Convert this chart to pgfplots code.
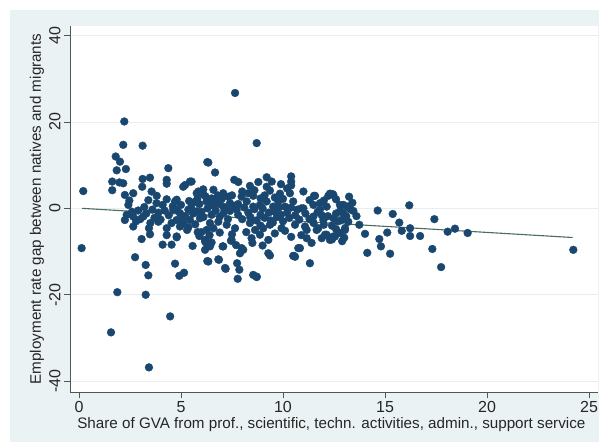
\documentclass[border=0pt]{standalone}
\usepackage{pgfplots}
\pgfplotsset{compat=1.18}
\usepackage{fontspec}
\setmainfont{Liberation Sans}
\definecolor{bgc}{RGB}{234,242,243}
\definecolor{navy}{RGB}{26,71,111}
\definecolor{fitc}{RGB}{72,110,96}
\definecolor{axc}{RGB}{85,85,85}
\definecolor{gridc}{RGB}{232,238,240}
\begin{document}
\begin{tikzpicture}[x=1pt,y=1pt]
\path[use as bounding box] (0,0) rectangle (599,442);
\fill[bgc] (10,0) rectangle (599,432);
\begin{axis}[
  at={(70pt,50pt)}, anchor=south west,
  scale only axis, width=528pt, height=366pt,
  xmin=-0.44, xmax=25.44, ymin=-42.5, ymax=42.2,
  axis x line*=bottom, axis y line*=left,
  axis line style={axc, line width=0.8pt},
  axis background/.style={fill=white},
  xtick={0,5,10,15,20,25}, ytick={-40,-20,0,20,40},
  tick align=outside, major tick length=6pt,
  tick style={axc, line width=0.8pt},
  ymajorgrids, grid style={gridc, line width=0.8pt},
  /pgf/number format/assume math mode=true,
  ticklabel style={font=\fontsize{16}{18}\selectfont, text=black!85},
  yticklabel style={rotate=90, anchor=south},
  label style={font=\fontsize{15.2}{18}\selectfont, text=black!85},
  xlabel={Share of GVA from prof., scientific, techn. activities, admin., support service},
  ylabel={Employment rate gap between natives and migrants},
  xlabel style={at={(axis description cs:0.495,-0.09)}, anchor=center},
  ylabel style={at={(axis description cs:-0.0625,0.5)}, anchor=center},
  clip=false,
]
\addplot[only marks, mark=*, mark size=3.9pt, mark options={fill=navy, draw=navy}] coordinates {
(0.21,4.0) (0.13,-9.2) (1.57,-28.7) (1.88,-19.4) (2.22,20.1) (2.17,14.7) (3.12,14.5) (1.80,12.0) (2.01,10.8) (1.85,8.8)
(2.30,9.1) (4.38,9.3) (6.29,10.7) (1.63,6.2) (1.63,4.2) (1.98,6.0) (2.17,5.8) (3.12,6.8) (3.48,7.1) (3.10,5.0)
(4.30,6.6) (4.30,5.7) (3.56,3.9) (3.81,2.9) (2.25,3.1) (2.47,1.8) (2.66,3.5) (2.42,0.8) (5.11,5.0) (5.44,6.2)
(5.85,3.9) (4.30,2.1) (4.79,2.0) (6.09,4.4) (6.25,1.6)
(2.34,-1.5) (2.66,-1.9) (2.25,-2.7) (2.66,-4.2) (3.15,-1.9) (3.43,-4.6) (3.48,-6.0) (3.07,-7.1) (3.89,-3.1) (4.30,-4.6)
(4.54,-3.4) (4.95,-4.2) (5.36,-4.4) (4.79,-6.7) (4.10,-8.4) (4.54,-8.4) (5.82,-5.5) (5.57,-8.7) (6.18,-7.7) (6.18,-9.6)
(6.29,-12.2) (2.75,-11.3) (3.27,-13.1) (3.40,-15.5) (4.71,-12.8) (5.15,-14.9) (4.92,-15.6) (3.27,-20.0) (4.47,-25.0) (3.43,-36.8)
(6.86,-11.9) (7.19,-14.0) (7.75,-12.7) (7.86,-14.2) (7.78,-16.3) (8.54,-15.4) (8.71,-15.9) (9.28,-10.4) (9.36,-10.9) (10.5,-11.0)
(8.05,-9.6) (7.89,-10.4) (6.26,-8.1) (6.50,-7.9) (7.04,-8.8) (7.45,-7.5)
(7.65,26.7) (8.71,15.1) (6.34,10.6) (6.67,8.3) (7.61,6.6) (7.81,6.1) (8.38,5.2) (8.79,6.1) (9.20,7.2) (9.45,6.2)
(10.4,7.4) (10.4,6.2) (5.20,5.4) (5.52,6.2) (6.59,4.3) (5.77,3.5) (7.07,3.5) (7.32,2.7) (7.97,2.7) (8.54,2.9)
(9.36,4.1) (9.85,3.4) (10.34,3.5) (11.57,2.9) (12.3,3.4) (12.47,3.1)
(4.71,1.6) (4.62,-0.3) (4.95,-1.1) (5.36,-0.3) (5.77,-0.7) (6.42,1.2) (6.75,1.6) (7.07,0.4) (7.40,1.2) (7.73,-0.3)
(8.22,1.6) (8.54,0.4) (8.87,0.8) (9.20,1.6) (9.52,0.4) (9.77,1.6) (10.1,0.4) (10.5,1.6) (11.0,0.0) (11.49,0.8)
(11.81,-0.3) (12.14,0.4) (12.79,-0.7) (12.96,0.8)
(4.79,-2.7) (5.11,-3.4) (5.44,-2.7) (5.93,-2.3) (6.42,-3.4) (6.83,-3.1) (7.24,-3.8) (7.65,-4.6) (6.59,-4.6) (6.26,-5.0)
(8.38,-3.4) (8.63,-5.0) (9.03,-4.6) (9.36,-3.8) (9.93,-4.6) (10.59,-3.8) (11.16,-5.0) (11.73,-4.6) (12.14,-6.1) (12.47,-6.5)
(12.79,-5.7) (13.04,-4.6)
(4.79,-6.5) (6.18,-7.3) (6.42,-8.8) (7.07,-8.8) (7.48,-7.3) (7.97,-9.2) (8.46,-6.9) (8.87,-6.1) (9.28,-7.3) (10.75,-9.2)
(10.59,-11.2) (11.32,-12.7) (6.34,-12.3) (6.83,-11.8) (7.16,-13.8) (8.71,-15.8)
(11.52,2.9) (12.22,2.9) (12.43,3.3) (13.24,2.7) (10.9,0.0) (11.81,1.2) (12.79,0.8) (13.15,0.4) (13.45,-0.6) (12.96,-1.1)
(12.47,-2.3) (11.98,-2.7) (11.49,-1.9) (11.08,-4.2) (11.65,-5.0) (12.06,-6.1) (12.30,-7.3) (12.55,-6.5) (13.04,-5.0) (13.20,-3.1)
(11.16,-6.9) (10.83,-9.2) (13.74,-3.8) (14.64,-0.5) (14.02,-5.9) (15.38,-1.3) (15.70,-3.3) (16.19,0.7) (15.11,-5.6) (14.72,-7.1)
(14.80,-8.8) (14.13,-10.3) (15.25,-10.5) (15.82,-5.2) (16.23,-4.6) (16.23,-6.4) (16.72,-6.4) (17.42,-2.5) (17.32,-9.4) (17.75,-13.6)
(18.07,-5.4) (18.43,-4.7) (19.05,-5.7) (24.23,-9.6) (10.54,-11.0)
(2.9,-0.5) (3.0,-2.5) (3.3,-1.2) (3.6,-0.3) (3.7,-2.2) (3.9,-1.0) (4.0,-2.6) (4.2,-0.5) (4.4,-1.6) (3.5,-3.4)
(2.8,-3.0) (4.1,0.8) (3.8,1.2) (4.6,0.5)
(5.0,0.8) (5.2,-1.8) (5.5,0.2) (5.6,-1.2) (5.9,1.0) (6.0,-0.8) (6.1,-2.0) (6.3,0.0) (6.5,-1.5) (6.6,0.6)
(6.7,-0.5) (6.9,-1.9) (7.0,2.2) (7.1,-1.0) (7.2,0.0) (5.7,-3.7) (6.0,-5.5) (6.4,-6.2) (6.9,-5.6) (7.3,-2.5)
(5.3,-5.0) (5.8,2.2) (6.2,2.8) (6.8,3.0) (7.4,-0.6) (7.6,0.6) (7.5,-6.0)
(7.8,-1.5) (8.0,-2.5) (8.1,0.2) (8.3,-1.0) (8.4,-2.0) (8.6,-0.2) (8.7,-2.8) (8.9,-1.5) (9.0,0.0) (9.1,-2.2)
(9.3,-1.0) (9.4,-2.8) (9.6,-0.8) (9.7,-2.0) (9.8,0.2) (9.9,-1.5) (10.0,-3.0) (10.2,-1.0) (10.3,-2.2) (10.4,0.2)
(10.6,-1.6) (10.7,-0.3) (10.8,-2.6) (8.2,-5.5) (8.9,-4.0) (9.6,-5.8) (10.1,-5.2) (10.4,-6.6) (9.1,3.0) (9.6,2.5)
(10.0,2.2) (10.2,4.6) (10.4,5.3) (8.0,3.9) (8.6,4.2)
(11.1,-1.2) (11.3,-2.5) (11.5,-3.4) (11.7,-0.8) (11.9,-1.6) (12.0,-3.8) (12.2,-1.8) (12.4,-4.0) (12.6,-1.2) (12.7,-3.0)
(12.9,-2.6) (13.1,-1.8) (13.3,-0.2) (12.0,1.8) (11.3,1.9) (12.6,-4.8) (13.0,-6.8) (12.4,-7.2)
(3.2,0.3) (3.4,1.9) (2.6,-0.8) (4.8,-0.4) (5.4,1.7) (5.1,-2.2) (5.7,1.5) (6.1,3.2) (6.5,2.3) (6.9,1.0)
(7.5,3.0) (7.8,1.0) (8.3,3.5) (8.9,2.3) (9.2,5.0) (9.5,-3.3) (10.9,-6.2) (11.4,-8.0) (11.9,-6.9) (12.9,-7.6)
(13.4,1.3) (13.6,-1.8) (12.6,2.1) (11.0,3.9) (9.9,5.6) (7.7,-8.5) (8.5,-8.0) (9.0,-8.6) (5.9,-6.4) (4.3,-6.2)
};
\addplot[fitc, line width=1.1pt] coordinates {(0.16,0.0) (24.2,-6.75)};
\end{axis}
\end{tikzpicture}
\end{document}
